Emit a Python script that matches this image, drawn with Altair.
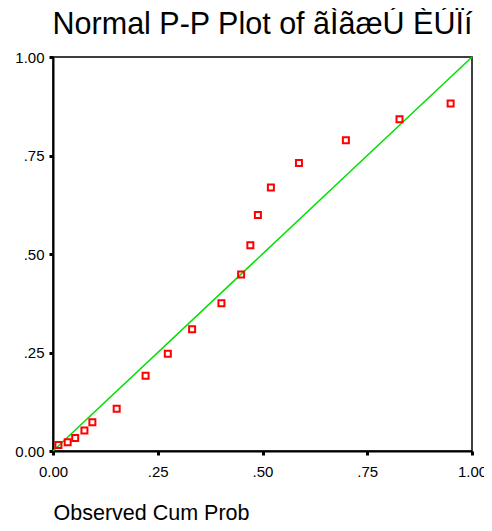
import altair as alt
import pandas as pd

# Observed cumulative probability (x) and expected cumulative probability (y)
obs = [0.013, 0.035, 0.053, 0.075, 0.094, 0.152, 0.221, 0.274, 0.332, 0.402,
       0.449, 0.471, 0.489, 0.520, 0.587, 0.699, 0.827, 0.949]
exp = [0.015, 0.022, 0.033, 0.052, 0.073, 0.107, 0.191, 0.247, 0.309, 0.375,
       0.448, 0.522, 0.599, 0.669, 0.731, 0.789, 0.842, 0.882]
ref_x = [0.0, 1.0]
ref_y = [0.0, 1.0]
tick_values = [0.0, 0.25, 0.5, 0.75, 1.0]
tick_labels = ["0.00", ".25", ".50", ".75", "1.00"]

title_text = "Normal P-P Plot of ãÌãæÚ ÈÚÏí"
x_title = "Observed Cum Prob"

pts = pd.DataFrame({"obs": obs, "exp": exp})
ref = pd.DataFrame({"obs": ref_x, "exp": ref_y})

label_expr = " : ".join(
    [f"datum.value == {v} ? '{l}'" for v, l in zip(tick_values, tick_labels)]
) + " : ''"

FONT = "Liberation Sans"

xscale = alt.Scale(domain=[0, 1], nice=False, zero=False)
yscale = alt.Scale(domain=[0, 1], nice=False, zero=False)

xaxis = alt.Axis(values=tick_values, labelExpr=label_expr, title=x_title,
                 titleAnchor="start", titleAlign="left", titlePadding=23,
                 titleFontSize=21.5, titleFontWeight="normal", titleColor="black",
                 labelFontSize=15, labelPadding=9, labelColor="black",
                 labelFlush=False, labelOverlap=False)
yaxis = alt.Axis(values=tick_values, labelExpr=label_expr, title=None,
                 labelFontSize=15, labelPadding=5, labelColor="black",
                 labelFlush=False, labelOverlap=False)

line = alt.Chart(ref).mark_line(color="#00e000", strokeWidth=1.5).encode(
    x=alt.X("obs:Q", scale=xscale, axis=xaxis),
    y=alt.Y("exp:Q", scale=yscale, axis=yaxis),
)

points = alt.Chart(pts).mark_point(
    shape="square", filled=False, color="#ff0000", size=36,
    strokeWidth=2, opacity=1
).encode(
    x=alt.X("obs:Q", scale=xscale),
    y=alt.Y("exp:Q", scale=yscale),
)

chart = alt.layer(line, points).properties(
    width=419, height=394,
    title=alt.TitleParams(title_text, fontSize=30.5, font=FONT,
                          fontWeight="normal", color="black",
                          anchor="middle", baseline="alphabetic", offset=8,
                          dy=22),
    autosize=alt.AutoSizeParams(type="none"),
    padding={"left": 45, "top": 49, "right": 12, "bottom": 72},
).configure(
    font=FONT,
).configure_view(
    stroke="black", strokeWidth=1.5,
).configure_axis(
    grid=False, domainColor="black", domainWidth=2,
    tickColor="black", tickSize=4, tickWidth=3,
    labelFont=FONT, titleFont=FONT,
)

chart.save("out.html", embed_options={"renderer": "svg", "actions": False})
